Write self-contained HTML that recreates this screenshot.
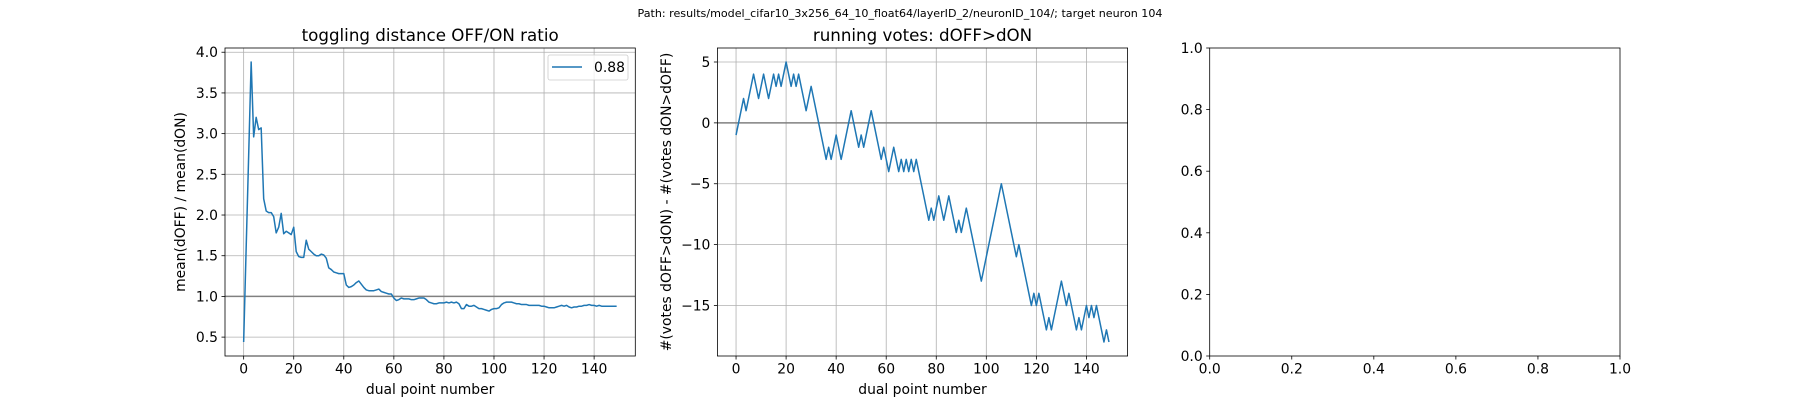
<!DOCTYPE html>
<html><head><meta charset="utf-8"><style>
html,body{margin:0;padding:0;background:#fff;}
svg{display:block;font-family:"DejaVu Sans","Liberation Sans",sans-serif;}
</style></head><body>
<svg id="fig" width="1800" height="400" viewBox="0 0 1800 400">
<text x="900" y="17" text-anchor="middle" font-size="11" textLength="525" lengthAdjust="spacingAndGlyphs">Path: results/model_cifar10_3x256_64_10_float64/layerID_2/neuronID_104/; target neuron 104</text>
</svg>
<script>
const ratioValues=[0.44,1.59,2.73,3.88,2.96,3.2,3.05,3.07,2.2,2.05,
2.03,2.03,1.98,1.78,1.85,2.02,1.77,1.8,1.78,1.76,
1.85,1.55,1.49,1.48,1.48,1.69,1.58,1.55,1.52,1.5,
1.5,1.52,1.51,1.47,1.35,1.33,1.3,1.29,1.28,1.28,
1.28,1.14,1.11,1.12,1.14,1.17,1.19,1.15,1.11,1.08,
1.07,1.07,1.07,1.08,1.09,1.06,1.05,1.04,1.03,1.03,
0.98,0.95,0.96,0.98,0.97,0.97,0.97,0.96,0.96,0.97,
0.98,0.98,0.98,0.96,0.93,0.92,0.91,0.91,0.92,0.92,
0.92,0.93,0.92,0.93,0.92,0.93,0.91,0.85,0.85,0.9,
0.88,0.88,0.89,0.87,0.85,0.85,0.84,0.83,0.82,0.84,
0.85,0.85,0.86,0.9,0.92,0.93,0.93,0.93,0.92,0.91,
0.91,0.9,0.9,0.9,0.89,0.89,0.89,0.89,0.89,0.88,
0.88,0.87,0.86,0.86,0.86,0.87,0.88,0.89,0.88,0.89,
0.87,0.86,0.87,0.87,0.88,0.88,0.89,0.89,0.9,0.89,
0.89,0.88,0.89,0.88,0.88,0.88,0.88,0.88,0.88,0.88];
const voteValues=[-1,0,1,2,1,2,3,4,3,2,
3,4,3,2,3,4,3,4,3,4,
5,4,3,4,3,4,3,2,1,2,
3,2,1,0,-1,-2,-3,-2,-3,-2,
-1,-2,-3,-2,-1,0,1,0,-1,-2,
-1,-2,-1,0,1,0,-1,-2,-3,-2,
-3,-4,-3,-2,-3,-4,-3,-4,-3,-4,
-3,-4,-3,-4,-5,-6,-7,-8,-7,-8,
-7,-6,-7,-8,-7,-6,-7,-8,-9,-8,
-9,-8,-7,-8,-9,-10,-11,-12,-13,-12,
-11,-10,-9,-8,-7,-6,-5,-6,-7,-8,
-9,-10,-11,-10,-11,-12,-13,-14,-15,-14,
-15,-14,-15,-16,-17,-16,-17,-16,-15,-14,
-13,-14,-15,-14,-15,-16,-17,-16,-17,-16,
-15,-16,-15,-16,-15,-16,-17,-18,-17,-18];
const xTicks=[0,20,40,60,80,100,120,140];
const ratioYTicks=[0.5,1.0,1.5,2.0,2.5,3.0,3.5,4.0];
const voteYTicks=[-15,-10,-5,0,5];
const emptyTicks=[0,0.2,0.4,0.6,0.8,1.0];
const legendLabel="0.88";

const NS="http://www.w3.org/2000/svg";
const svg=document.getElementById('fig');
function mk(tag,attrs,parent){const e=document.createElementNS(NS,tag);for(const k in attrs)e.setAttribute(k,attrs[k]);(parent||svg).appendChild(e);return e;}
const TOP=48,BOT=356;
function axes(L,R,xmin,xmax,ymin,ymax){
  return {L,R,x:v=>L+(v-xmin)/(xmax-xmin)*(R-L),y:v=>BOT-(v-ymin)/(ymax-ymin)*(BOT-TOP)};
}
function drawAxes(a,xt,yt,fmtX,fmtY,grid,name){
  const g=mk('g',{});
  
  
  if(grid){
    xt.forEach(v=>{const l=mk('line',{x1:a.x(v),x2:a.x(v),y1:TOP,y2:BOT,stroke:'#b0b0b0','stroke-width':0.8},g);
      });
    yt.forEach(v=>{const l=mk('line',{x1:a.L,x2:a.R,y1:a.y(v),y2:a.y(v),stroke:'#b0b0b0','stroke-width':0.8},g);
      });
  }
  xt.forEach(v=>{mk('line',{x1:a.x(v),x2:a.x(v),y1:BOT,y2:BOT+3.5,stroke:'#000','stroke-width':0.8},g);
    const t=mk('text',{x:a.x(v),y:BOT+17.5,'text-anchor':'middle','font-size':13.9},g);t.textContent=fmtX(v);
    });
  yt.forEach(v=>{mk('line',{x1:a.L-3.5,x2:a.L,y1:a.y(v),y2:a.y(v),stroke:'#000','stroke-width':0.8},g);
    const t=mk('text',{x:a.L-7,y:a.y(v)+5,'text-anchor':'end','font-size':13.9},g);t.textContent=fmtY(v);
    });
  return g;
}
function frame(a,g){const r=mk('rect',{x:a.L,y:TOP,width:a.R-a.L,height:BOT-TOP,fill:'none',stroke:'#000','stroke-width':0.8},g);
  }
function lineOf(a,vals,g,name){
  const d=vals.map((v,i)=>(i?'L':'M')+a.x(i).toFixed(2)+' '+a.y(v).toFixed(2)).join('');
  const p=mk('path',{d,fill:'none',stroke:'#1f77b4','stroke-width':1.5,'stroke-linejoin':'round'},g);
  
}
function txt(x,y,s,size,name,extra){const t=mk('text',Object.assign({x,y,'text-anchor':'middle','font-size':size},extra||{}));t.textContent=s;
  return t;}
function mm(v){return [Math.min(...v),Math.max(...v)];}
const n=ratioValues.length;
const xpad=(n-1)*0.05;

// Axes 1
let [rmin,rmax]=mm(ratioValues);let rp=(rmax-rmin)*0.05;
const a1=axes(225,635.3,-xpad,n-1+xpad,rmin-rp,rmax+rp);
const g1=drawAxes(a1,xTicks,ratioYTicks,v=>String(v),v=>v.toFixed(1),true,'ratio-chart');
const h1=mk('line',{x1:a1.L,x2:a1.R,y1:a1.y(1),y2:a1.y(1),stroke:'#808080','stroke-width':1.5},g1);

lineOf(a1,ratioValues,g1,'ratio-line');
frame(a1,g1);
const lg=mk('g',{});


mk('rect',{x:548,y:55,width:80,height:25,rx:2,fill:'#fff','fill-opacity':0.8,stroke:'#ccc','stroke-width':0.8},lg);
mk('line',{x1:552,x2:582,y1:67,y2:67,stroke:'#1f77b4','stroke-width':1.5},lg);
const lt=mk('text',{x:594,y:72,'font-size':13.9},lg);lt.textContent=legendLabel;

txt((a1.L+a1.R)/2,41,'toggling distance OFF/ON ratio',16.7,'ratio-chart-title');
txt((a1.L+a1.R)/2,394,'dual point number',13.9,'ratio-x-axis-title');
txt(0,0,'mean(dOFF) / mean(dON)',13.9,'ratio-y-axis-title',{transform:'translate(185,202) rotate(-90)'});

// Axes 2
let [vmin,vmax]=mm(voteValues);let vp=(vmax-vmin)*0.05;
const a2=axes(717.4,1127.6,-xpad,n-1+xpad,vmin-vp,vmax+vp);
const g2=drawAxes(a2,xTicks,voteYTicks,v=>String(v),v=>v<0?'\u2212'+(-v):String(v),true,'votes-chart');
const h2=mk('line',{x1:a2.L,x2:a2.R,y1:a2.y(0),y2:a2.y(0),stroke:'#808080','stroke-width':1.5},g2);

lineOf(a2,voteValues,g2,'votes-line');
frame(a2,g2);
txt((a2.L+a2.R)/2,41,'running votes: dOFF>dON',16.7,'votes-chart-title');
txt((a2.L+a2.R)/2,394,'dual point number',13.9,'votes-x-axis-title');
txt(0,0,'#(votes dOFF>dON) - #(votes dON>dOFF)',13.9,'votes-y-axis-title',{transform:'translate(671,202) rotate(-90)'});

// Axes 3 (empty)
const a3=axes(1209.7,1620,0,1,0,1);
const g3=drawAxes(a3,emptyTicks,emptyTicks,v=>v.toFixed(1),v=>v.toFixed(1),false,'empty-chart');
frame(a3,g3);
</script>
</body></html>
